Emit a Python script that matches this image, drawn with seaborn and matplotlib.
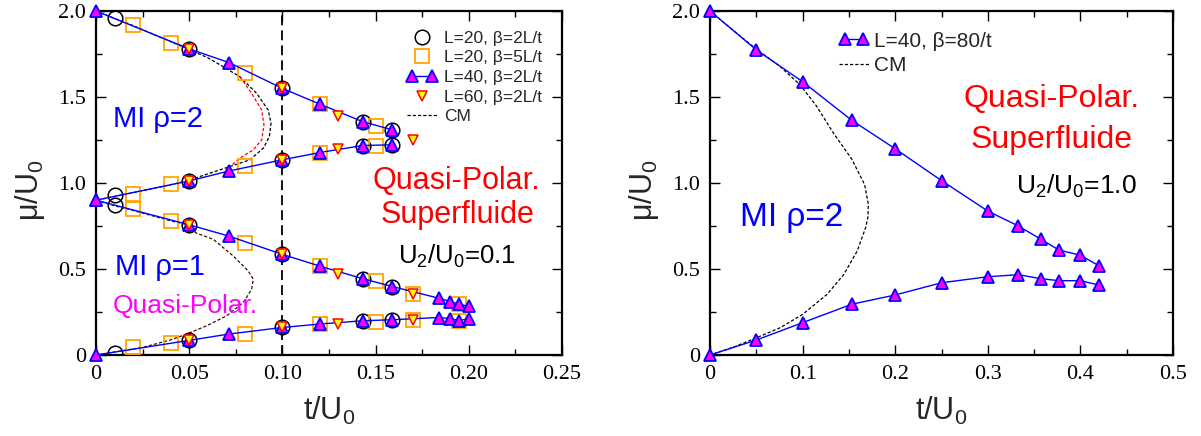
"""Phase diagram mu/U0 vs t/U0 for U2/U0=0.1 and U2/U0=1.0."""

import matplotlib
matplotlib.use("Agg")
import matplotlib.pyplot as plt
import seaborn as sns
from matplotlib.legend_handler import HandlerLine2D
from matplotlib.lines import Line2D
from matplotlib.ticker import FixedLocator, MultipleLocator

# ---------------- left panel data (U2/U0 = 0.1) ----------------
# L=20, beta=2L/t (open circles)
t_l20_b2 = [0.01, 0.01, 0.01, 0.01, 0.05, 0.05, 0.05, 0.05, 0.10, 0.10, 0.10, 0.10,
            0.143, 0.143, 0.143, 0.143, 0.159, 0.159, 0.159, 0.159]
mu_l20_b2 = [1.958, 0.928, 0.874, 0.012, 1.780, 1.009, 0.757, 0.085, 1.550, 1.135, 0.585, 0.160,
             1.357, 1.218, 0.444, 0.199, 1.309, 1.222, 0.398, 0.205]

# L=20, beta=5L/t (open squares)
t_l20_b5 = [0.02, 0.02, 0.02, 0.02, 0.04, 0.04, 0.04, 0.04, 0.08, 0.08, 0.08, 0.08,
            0.12, 0.12, 0.12, 0.12, 0.15, 0.15, 0.15, 0.15, 0.17, 0.17, 0.195, 0.195]
mu_l20_b5 = [1.919, 0.938, 0.849, 0.044, 1.813, 0.996, 0.780, 0.070, 1.639, 1.098, 0.652, 0.125,
             1.459, 1.177, 0.517, 0.180, 1.334, 1.218, 0.430, 0.192, 0.353, 0.205, 0.295, 0.199]

# L=40, beta=2L/t (triangles joined by lines), one list per branch
t_l40_lobe2 = [0.0, 0.05, 0.0714, 0.10, 0.12, 0.143, 0.159]
mu_l40_lobe2_top = [2.0, 1.780, 1.700, 1.550, 1.459, 1.357, 1.309]
mu_l40_lobe2_bot = [0.9, 1.012, 1.070, 1.135, 1.177, 1.218, 1.222]
t_l40_lobe1 = [0.0, 0.05, 0.0714, 0.10, 0.12, 0.143, 0.159, 0.184, 0.19, 0.195, 0.20]
mu_l40_lobe1_top = [0.9, 0.757, 0.691, 0.585, 0.517, 0.444, 0.398, 0.330, 0.311, 0.295, 0.282]
mu_l40_lobe1_bot = [0.0, 0.085, 0.122, 0.160, 0.180, 0.199, 0.205, 0.218, 0.212, 0.200, 0.212]

# L=60, beta=2L/t (down triangles)
t_l60 = [0.05, 0.05, 0.05, 0.05, 0.10, 0.10, 0.10, 0.10, 0.13, 0.13, 0.13, 0.13, 0.17, 0.17, 0.17]
mu_l60 = [1.780, 1.009, 0.757, 0.085, 1.550, 1.135, 0.585, 0.160, 1.391, 1.200, 0.469, 0.180,
          1.251, 0.353, 0.205]

# CM boundaries (dashed)
t_cm2_black = [0.0, 0.01, 0.02, 0.03, 0.04, 0.05, 0.06, 0.068, 0.0773, 0.0862, 0.0924, 0.0939,
               0.093, 0.0898, 0.0826, 0.0719, 0.0558, 0.05, 0.04, 0.03, 0.02, 0.01, 0.0]
mu_cm2_black = [2.0, 1.957, 1.915, 1.868, 1.822, 1.776, 1.728, 1.678, 1.617, 1.521, 1.424, 1.347,
                1.270, 1.203, 1.135, 1.096, 1.038, 1.015, 0.990, 0.967, 0.944, 0.922, 0.9]
t_cm2_red = [0.0773, 0.0835, 0.0889, 0.0901, 0.0889, 0.0844, 0.0773, 0.0719]
mu_cm2_red = [1.617, 1.521, 1.424, 1.338, 1.251, 1.193, 1.145, 1.096]
t_cm1 = [0.0, 0.01, 0.02, 0.03, 0.04, 0.05, 0.0536, 0.063, 0.0737, 0.0817, 0.0844, 0.0835,
         0.079, 0.0701, 0.0594, 0.0487, 0.04, 0.0254, 0.0]
mu_cm1 = [0.9, 0.868, 0.840, 0.810, 0.780, 0.755, 0.710, 0.672, 0.575, 0.488, 0.440, 0.382,
          0.305, 0.228, 0.170, 0.122, 0.088, 0.045, 0.0]

# ---------------- right panel data (U2/U0 = 1.0) ----------------
t_l40_b80 = [0.0, 0.05, 0.10, 0.153, 0.20, 0.25, 0.30, 0.333, 0.357, 0.377, 0.40, 0.42]
mu_l40_b80_top = [2.0, 1.774, 1.589, 1.365, 1.199, 1.014, 0.837, 0.750, 0.674, 0.610, 0.580, 0.519]
mu_l40_b80_bot = [0.0, 0.087, 0.188, 0.295, 0.349, 0.420, 0.455, 0.467, 0.444, 0.432, 0.432, 0.407]

t_cm_r = [0.0, 0.025, 0.05, 0.0756, 0.0972, 0.1152, 0.1332, 0.153, 0.167, 0.171, 0.1705, 0.168,
          0.159, 0.1446, 0.1265, 0.10, 0.0759, 0.0506, 0.025, 0.0]
mu_cm_r = [2.0, 1.888, 1.778, 1.678, 1.571, 1.446, 1.291, 1.140, 0.990, 0.876, 0.800, 0.740,
           0.605, 0.469, 0.353, 0.236, 0.159, 0.101, 0.045, 0.0]

xticks_left = [0.0, 0.05, 0.10, 0.15, 0.20, 0.25]
xlabels_left = ["0", "0.05", "0.10", "0.15", "0.20", "0.25"]
xticks_right = [0.0, 0.1, 0.2, 0.3, 0.4, 0.5]
xlabels_right = ["0", "0.1", "0.2", "0.3", "0.4", "0.5"]
yticks = [0.0, 0.5, 1.0, 1.5, 2.0]
ylabels = ["0", "0.5", "1.0", "1.5", "2.0"]

BLUE = "#0000ff"
RED = "#ff0000"
MAGENTA = "#ff00ff"
ORANGE = "#ffa500"
YELLOW = "#ffff00"
SANS = ["Liberation Sans", "DejaVu Sans"]
SERIF = ["Liberation Serif", "DejaVu Serif"]

sns.set_theme(style="ticks")
# tick labels are serif; every other text names the sans family itself
plt.rcParams["font.family"] = SERIF
plt.rcParams["mathtext.fontset"] = "custom"
plt.rcParams["mathtext.rm"] = "Liberation Sans"
plt.rcParams["mathtext.it"] = "Liberation Sans:italic"
plt.rcParams["mathtext.bf"] = "Liberation Sans:bold"

fig = plt.figure(figsize=(12.01, 4.36), dpi=100)
ax1 = fig.add_axes([96 / 1201, 81 / 436, 466 / 1201, 344 / 436])
ax2 = fig.add_axes([710 / 1201, 81 / 436, 463 / 1201, 344 / 436])

tri_kw = dict(marker="^", markersize=9, markerfacecolor=MAGENTA, markeredgecolor=BLUE,
              markeredgewidth=1.3, color=BLUE, linewidth=1.0, clip_on=False)
cm_dash = (0, (2.6, 1.6))


def style_axis(ax, xticks, xlabels, xmax, xminor):
    ax.set_xlim(0, xmax)
    ax.set_ylim(0, 2.0)
    ax.xaxis.set_major_locator(FixedLocator(xticks))
    ax.set_xticklabels(xlabels)
    ax.xaxis.set_minor_locator(MultipleLocator(xminor))
    ax.yaxis.set_major_locator(FixedLocator(yticks))
    ax.set_yticklabels(ylabels)
    ax.yaxis.set_minor_locator(MultipleLocator(0.25))
    ax.tick_params(which="both", direction="in", top=True, right=True, colors="black",
                   labelcolor="black", labelsize=16, labelfontfamily="Liberation Serif")
    ax.tick_params(which="major", length=7, width=1.0, pad=7)
    ax.tick_params(which="minor", length=4, width=1.0)
    for sp in ax.spines.values():
        sp.set_visible(True)
        sp.set_linewidth(1.6)
        sp.set_color("black")
    ax.set_facecolor("white")
    ax.set_xlabel("t/U$_0$", fontsize=22, family=SANS)
    ax.set_ylabel("μ/U$_0$", fontsize=22, family=SANS)
    ax.xaxis.set_label_coords(0.5, -0.115)
    ax.yaxis.set_label_coords(-0.105, 0.48)


# ---------- left panel ----------
ax1.axvline(0.10, color="black", lw=1.3, ls=(0, (5.5, 2.8)), zorder=1)
sns.lineplot(x=t_cm2_black, y=mu_cm2_black, sort=False, estimator=None, ax=ax1,
             color="black", lw=0.9, ls=cm_dash, zorder=2)
sns.lineplot(x=t_cm2_red, y=mu_cm2_red, sort=False, estimator=None, ax=ax1,
             color=RED, lw=0.9, ls=cm_dash, zorder=2)
sns.lineplot(x=t_cm1, y=mu_cm1, sort=False, estimator=None, ax=ax1,
             color="#3a0c0c", lw=0.9, ls=cm_dash, zorder=2)
sns.lineplot(x=t_l20_b2, y=mu_l20_b2, sort=False, estimator=None, ax=ax1, linestyle="none",
             marker="o", markersize=10.5, markerfacecolor="none", markeredgecolor="black",
             markeredgewidth=1.1, zorder=3)
sns.lineplot(x=t_l20_b5, y=mu_l20_b5, sort=False, estimator=None, ax=ax1, linestyle="none",
             marker="s", markersize=9.5, markerfacecolor="none", markeredgecolor=ORANGE,
             markeredgewidth=1.3, zorder=3)
for mu in (mu_l40_lobe2_top, mu_l40_lobe2_bot):
    sns.lineplot(x=t_l40_lobe2, y=mu, sort=False, estimator=None, ax=ax1, zorder=4, **tri_kw)
for mu in (mu_l40_lobe1_top, mu_l40_lobe1_bot):
    sns.lineplot(x=t_l40_lobe1, y=mu, sort=False, estimator=None, ax=ax1, zorder=4, **tri_kw)
sns.lineplot(x=t_l60, y=mu_l60, sort=False, estimator=None, ax=ax1, linestyle="none",
             marker="v", markersize=7.5, markerfacecolor=YELLOW, markeredgecolor=RED,
             markeredgewidth=1.1, zorder=5)

style_axis(ax1, xticks_left, xlabels_left, 0.25, 0.025)

ax1.text(0.009, 1.37, "MI ρ=2", color=BLUE, fontsize=21, va="center", ha="left", family=SANS)
ax1.text(0.010, 0.51, "MI ρ=1", color=BLUE, fontsize=21, va="center", ha="left", family=SANS)
ax1.text(0.009, 0.285, "Quasi-Polar.", color=MAGENTA, fontsize=19, va="center", ha="left",
         family=SANS)
ax1.text(0.1935, 1.013, "Quasi-Polar.", color=RED, fontsize=22, va="center", ha="center",
         family=SANS)
ax1.text(0.1940, 0.816, "Superfluide", color=RED, fontsize=22, va="center", ha="center",
         family=SANS)
ax1.text(0.1937, 0.575, "U$_2$/U$_0$=0.1", color="black", fontsize=18.5, va="center",
         ha="center", family=SANS)

h_circ = Line2D([], [], ls="none", marker="o", markersize=10.5, markerfacecolor="none",
                markeredgecolor="black", markeredgewidth=1.1)
h_sq = Line2D([], [], ls="none", marker="s", markersize=9.5, markerfacecolor="none",
              markeredgecolor=ORANGE, markeredgewidth=1.3)
h_tri = Line2D([], [], marker="^", markersize=9, markerfacecolor=MAGENTA, markeredgecolor=BLUE,
               markeredgewidth=1.3, color=BLUE, lw=1.0)
h_dn = Line2D([], [], ls="none", marker="v", markersize=7.5, markerfacecolor=YELLOW,
              markeredgecolor=RED, markeredgewidth=1.1)
h_cm = Line2D([], [], color="black", lw=0.9, ls=cm_dash)

ax1.legend([h_circ, h_sq, h_tri, h_dn, h_cm],
           ["L=20, β=2L/t", "L=20, β=5L/t", "L=40, β=2L/t", "L=60, β=2L/t", "CM"],
           loc="upper left", bbox_to_anchor=(0.667, 0.943), frameon=False,
           prop={"family": SANS, "size": 12.5},
           handlelength=1.75, handletextpad=0.38, labelspacing=0.26, borderpad=0,
           borderaxespad=0, handler_map={h_tri: HandlerLine2D(numpoints=2)}, numpoints=1)

# ---------- right panel ----------
sns.lineplot(x=t_cm_r, y=mu_cm_r, sort=False, estimator=None, ax=ax2,
             color="black", lw=0.9, ls=cm_dash, zorder=2)
for mu in (mu_l40_b80_top, mu_l40_b80_bot):
    sns.lineplot(x=t_l40_b80, y=mu, sort=False, estimator=None, ax=ax2, zorder=4, **tri_kw)

style_axis(ax2, xticks_right, xlabels_right, 0.5, 0.05)

ax2.text(0.0324, 0.80, "MI ρ=2", color=BLUE, fontsize=24, va="center", ha="left", family=SANS)
ax2.text(0.369, 1.49, "Quasi-Polar.", color=RED, fontsize=23, va="center", ha="center",
         family=SANS)
ax2.text(0.369, 1.252, "Superfluide", color=RED, fontsize=23, va="center", ha="center",
         family=SANS)
ax2.text(0.396, 0.98, "U$_2$/U$_0$=1.0", color="black", fontsize=19, va="center", ha="center",
         family=SANS)

ax2.legend([h_tri, h_cm], ["L=40, β=80/t", "CM"],
           loc="upper left", bbox_to_anchor=(0.279, 0.94), frameon=False,
           prop={"family": SANS, "size": 15},
           handlelength=1.45, handletextpad=0.24, labelspacing=0.25, borderpad=0,
           borderaxespad=0, handler_map={h_tri: HandlerLine2D(numpoints=2)}, numpoints=1)

fig.canvas.draw()
for ax in (ax1, ax2):
    for lbl in ax.get_xticklabels() + ax.get_yticklabels():
        lbl.set_fontfamily(SERIF)

fig.savefig("out.png", dpi=100, facecolor="white")
